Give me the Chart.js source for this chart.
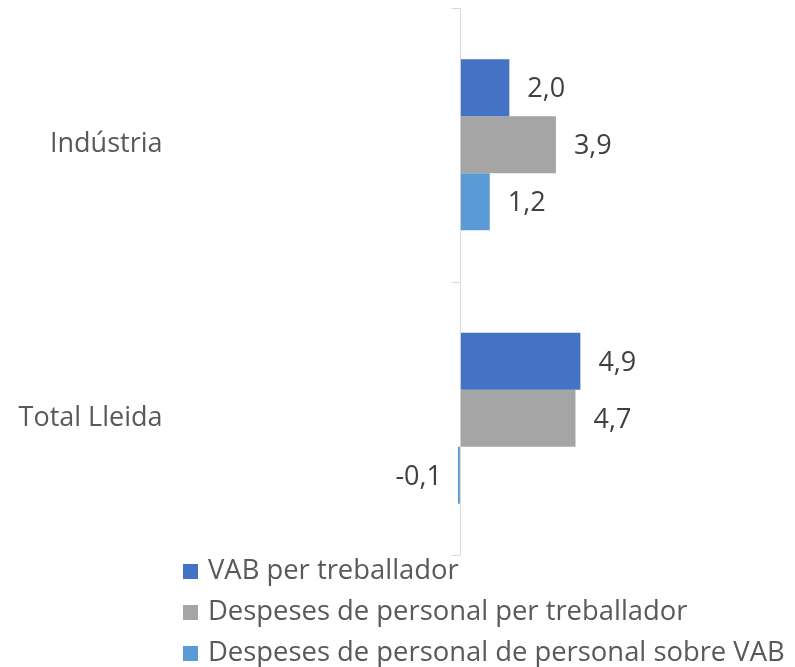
<!DOCTYPE html>
<html>
<head>
<meta charset="utf-8">
<script src="https://cdn.jsdelivr.net/npm/chart.js@4"></script>
<style>
  body { margin: 0; background: #fff; }
  #wrap { position: relative; width: 795px; height: 667px; }
  #legend { position: absolute; left: 183px; top: 548px; font-family: "Open Sans", sans-serif; font-size: 27.4px; color: #595959; }
  #legend div { height: 41px; line-height: 41px; white-space: nowrap; }
  #legend span { display: inline-block; width: 15px; height: 15px; margin-right: 10px; vertical-align: 0px; }
</style>
</head>
<body>
<div id="wrap">
  <canvas id="chart" width="795" height="667"></canvas>
  <div id="legend"></div>
</div>
<script>
const categories = ["Indústria", "Total Lleida"];
const seriesNames = ["VAB per treballador", "Despeses de personal per treballador", "Despeses de personal de personal sobre VAB"];
const vabPerTreballador = [2.0, 4.9];
const despesesPerTreballador = [3.9, 4.7];
const despesesSobreVab = [1.2, -0.1];
const colors = ["#4472C4", "#A5A5A5", "#5B9BD5"];

// value labels with comma decimals, plus the small category tick marks on the zero line
const labelsPlugin = {
  id: 'valueLabels',
  afterDatasetsDraw(chart) {
    const ctx = chart.ctx;
    const x = chart.scales.x, y = chart.scales.y;
    ctx.save();
    ctx.font = '27px "Open Sans", sans-serif';
    ctx.fillStyle = '#404040';
    ctx.textBaseline = 'middle';
    chart.data.datasets.forEach((ds, i) => {
      chart.getDatasetMeta(i).data.forEach((bar, j) => {
        const v = ds.data[j];
        const txt = v.toFixed(1).replace('.', ',');
        if (v >= 0) {
          ctx.textAlign = 'left';
          ctx.fillText(txt, bar.x + 18, bar.y + 2);
        } else {
          ctx.textAlign = 'right';
          ctx.fillText(txt, bar.x - 16, bar.y + 2);
        }
      });
    });
    // tick marks between categories
    const x0 = Math.round(x.getPixelForValue(0)) + 0.5;
    ctx.strokeStyle = '#d9d9d9';
    ctx.lineWidth = 1;
    const half = (y.getPixelForValue(1) - y.getPixelForValue(0)) / 2;
    for (let k = 0; k <= categories.length; k++) {
      const py = Math.round(y.getPixelForValue(k) - half) + 0.5;
      ctx.beginPath();
      ctx.moveTo(x0 - 9, py);
      ctx.lineTo(x0, py);
      ctx.stroke();
    }
    ctx.restore();
  }
};

const chart = new Chart(document.getElementById('chart').getContext('2d'), {
  type: 'bar',
  data: {
    labels: categories,
    datasets: [
      { label: seriesNames[0], data: vabPerTreballador, backgroundColor: colors[0] },
      { label: seriesNames[1], data: despesesPerTreballador, backgroundColor: colors[1] },
      { label: seriesNames[2], data: despesesSobreVab, backgroundColor: colors[2] }
    ]
  },
  options: {
    indexAxis: 'y',
    responsive: false,
    animation: false,
    categoryPercentage: 0.625,
    barPercentage: 1.0,
    layout: { padding: { top: 8, bottom: 112, right: 4 } },
    plugins: {
      legend: { display: false },
      tooltip: { enabled: false }
    },
    scales: {
      x: {
        min: -12,
        max: 13.5,
        ticks: { display: false, stepSize: 1 },
        border: { display: false },
        grid: {
          drawTicks: false,
          color: c => (c.tick && c.tick.value === 0) ? '#d9d9d9' : 'rgba(0,0,0,0)'
        }
      },
      y: {
        afterFit: s => { s.width = 166.5; s.paddingTop = 0; s.paddingBottom = 0; },
        border: { display: false },
        grid: { display: false, drawTicks: false },
        ticks: {
          padding: 4,
          color: '#595959',
          font: { family: '"Open Sans", sans-serif', size: 27 }
        }
      }
    }
  },
  plugins: [labelsPlugin]
});

const legend = document.getElementById('legend');
chart.data.datasets.forEach(ds => {
  const row = document.createElement('div');
  const box = document.createElement('span');
  box.style.background = ds.backgroundColor;
  row.appendChild(box);
  row.appendChild(document.createTextNode(ds.label));
  legend.appendChild(row);
});
</script>
</body>
</html>
